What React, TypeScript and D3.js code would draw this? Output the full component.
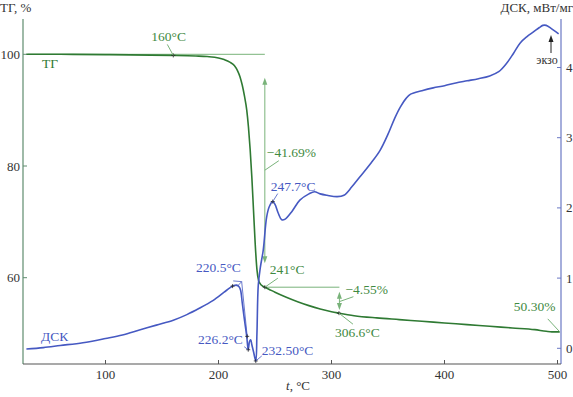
import React from "react";
import * as d3 from "d3";

const tgT = [30, 60, 100, 140, 160, 180, 190, 200, 205, 210, 214, 217, 219, 221, 223, 225, 226.5, 228, 229.5, 231, 232.5, 234, 235.5, 237, 239, 241, 245, 250, 260, 270, 280, 290, 300, 306.6, 320, 340, 360, 380, 400, 420, 440, 460, 480, 490, 495, 502];
const tgV = [100.0, 100.0, 99.95, 99.85, 99.8, 99.7, 99.6, 99.35, 99.05, 98.6, 98.0, 97.0, 96.0, 94.5, 92.5, 90.0, 87.0, 83.0, 78.0, 72.0, 66.0, 61.5, 59.5, 58.9, 58.5, 58.3, 57.9, 57.4, 56.5, 55.7, 55.0, 54.4, 53.9, 53.65, 53.2, 52.8, 52.5, 52.2, 51.9, 51.6, 51.3, 51.0, 50.7, 50.4, 50.3, 50.3];

const dscT = [30, 45, 60, 80, 100, 115, 130, 145, 160, 172, 183, 195, 205, 210, 213, 216, 218, 219.5, 221, 223, 225, 226.3, 227.5, 228.5, 229.5, 231, 233, 234, 235.2, 237, 239.6, 242.6, 245, 248, 250, 253, 256, 259, 265, 272, 280, 285, 290, 296, 305, 311, 318, 325, 335, 343, 350, 356, 361, 366, 370, 380, 390, 400, 410, 420, 430, 440, 448, 455, 461, 467, 473, 479, 484, 487, 490, 494, 501];
const dscV = [-0.01, 0.01, 0.04, 0.08, 0.14, 0.19, 0.26, 0.33, 0.40, 0.48, 0.57, 0.68, 0.80, 0.86, 0.89, 0.9, 0.88, 0.83, 0.65, 0.4, 0.17, -0.02, 0.1, 0.12, 0.05, -0.05, -0.18, 0.2, 0.9, 1.15, 1.4, 1.87, 2.02, 2.09, 2.05, 1.92, 1.83, 1.84, 1.95, 2.11, 2.2, 2.23, 2.2, 2.18, 2.16, 2.18, 2.3, 2.44, 2.64, 2.82, 3.05, 3.28, 3.44, 3.56, 3.62, 3.67, 3.71, 3.74, 3.78, 3.81, 3.84, 3.88, 3.94, 4.06, 4.2, 4.35, 4.44, 4.51, 4.57, 4.6, 4.6, 4.56, 4.48];

const xTicks = [100, 200, 300, 400, 500];
const leftTicks = [100, 80, 60];
const rightTicks = [0, 1, 2, 3, 4];

const GREEN = "#2f7a33";
const LGREEN = "#79b37a";
const TGREEN = "#3f8a42";
const BLUE = "#4659c2";
const FONT = "\"Liberation Serif\", \"DejaVu Serif\", serif";

export default function App() {
  const x = d3.scaleLinear().domain([100, 500]).range([105.5, 557.5]);
  const yL = d3.scaleLinear().domain([100, 60]).range([54.3, 277.7]);
  const yR = d3.scaleLinear().domain([0, 4]).range([348.3, 67.5]);

  const left = 23, right = 561, top = 19, bottom = 364;

  const tg = tgT.map((t, i) => [t, tgV[i]] as [number, number]);
  const dsc = dscT.map((t, i) => [t, dscV[i]] as [number, number]);

  const tgLine = d3.line<[number, number]>().x(d => x(d[0])).y(d => yL(d[1])).curve(d3.curveMonotoneX);
  const dscLine = d3.line<[number, number]>().x(d => x(d[0])).y(d => yR(d[1])).curve(d3.curveCatmullRom.alpha(0.5));

  const tgAt = (t: number) => tgV[tgT.indexOf(t)];
  const dscAt = (t: number) => dscV[dscT.indexOf(t)];

  const plus = (cx: number, cy: number, k: string) => (
    <g key={k} stroke="#222" strokeWidth={0.8}>
      <line x1={cx - 2} x2={cx + 2} y1={cy} y2={cy} />
      <line x1={cx} x2={cx} y1={cy - 2} y2={cy + 2} />
    </g>
  );

  const arrowHead = (px: number, py: number, dir: number, c: string) => (
    <path d={`M${px},${py} L${px - 2.5},${py - dir * 7} L${px + 2.5},${py - dir * 7} Z`} fill={c} />
  );

  const p241 = { x: x(241), y: yL(tgAt(241)) };
  const p306 = { x: x(306.6), y: yL(tgAt(306.6)) };
  const p160 = { x: x(160), y: yL(tgAt(160)) };
  const p500 = { x: x(502), y: yL(tgAt(502)) };
  const d220 = { x: x(216), y: yR(dscAt(216)) };
  const d226 = { x: x(226.3), y: yR(dscAt(226.3)) };
  const d232 = { x: x(233), y: yR(dscAt(233)) };
  const d247 = { x: x(248), y: yR(dscAt(248)) };

  const ax1 = x(241);
  const ax2 = x(307);

  return (
    <svg width={573} height={397} style={{ position: "absolute", left: 0, top: 0, background: "#fff", fontFamily: FONT }}>
      <style>{`text { font-family: "Liberation Serif", "DejaVu Serif", serif; }`}</style>
      <line x1={left} x2={left} y1={top} y2={bottom} stroke="#5e8c6e" strokeWidth={1.2} />
      <line x1={right} x2={right} y1={top} y2={bottom} stroke="#6a78c4" strokeWidth={1.2} />
      <line x1={left} x2={right} y1={bottom} y2={bottom} stroke="#555" strokeWidth={1.2} />
      {xTicks.map(t => (
        <g key={"xt" + t}>
          <line x1={x(t)} x2={x(t)} y1={bottom} y2={bottom - 4} stroke="#555" />
          <text x={x(t)} y={bottom + 15} textAnchor="middle" fontSize={13} fill="#333">{t}</text>
        </g>
      ))}
      {leftTicks.map(v => (
        <g key={"lt" + v}>
          <line x1={left} x2={left + 4} y1={yL(v)} y2={yL(v)} stroke="#5e8c6e" />
          <text x={left - 3} y={yL(v) + 4.5} textAnchor="end" fontSize={13} fill="#333">{v}</text>
        </g>
      ))}
      {rightTicks.map(v => (
        <g key={"rt" + v}>
          <line x1={right} x2={right - 4} y1={yR(v)} y2={yR(v)} stroke="#6a78c4" />
          <text x={right + 5} y={yR(v) + 4.5} textAnchor="start" fontSize={13} fill="#333">{v}</text>
        </g>
      ))}
      <text x={0} y={12} fontSize={13} fill="#333">ТГ, %</text>
      <text x={573} y={12} fontSize={13} fill="#333" textAnchor="end">ДСК, мВт/мг</text>
      <text x={298} y={390} fontSize={13} fill="#333" textAnchor="middle"><tspan fontStyle="italic">t</tspan>, °C</text>

      <line x1={left + 5} x2={ax1} y1={yL(100)} y2={yL(100)} stroke={LGREEN} strokeWidth={1} />
      <line x1={ax1} x2={ax1} y1={yL(95.8) + 6} y2={yL(62.6) - 6} stroke={LGREEN} strokeWidth={1} />
      {arrowHead(ax1, yL(95.8), -1, LGREEN)}
      {arrowHead(ax1, yL(62.6), 1, LGREEN)}
      <line x1={ax1} x2={ax2} y1={p241.y} y2={p241.y} stroke={LGREEN} strokeWidth={1} />
      <line x1={ax2} x2={ax2} y1={yL(57.5) + 6} y2={yL(54.2) - 6} stroke={LGREEN} strokeWidth={1} />
      {arrowHead(ax2, yL(57.5), -1, LGREEN)}
      {arrowHead(ax2, yL(54.2), 1, LGREEN)}

      <polyline points={`${x(213)},${yR(0.96)} ${x(220.5)},${yR(0.95)} ${x(216.5)},${yR(0.88)}`} fill="none" stroke={BLUE} strokeWidth={0.8} />
      <line x1={x(220.5)} y1={yR(0.95)} x2={x(225.4)} y2={yR(0.17)} stroke={BLUE} strokeWidth={0.8} />

      <path d={tgLine(tg) || ""} fill="none" stroke={GREEN} strokeWidth={1.6} />
      <path d={dscLine(dsc) || ""} fill="none" stroke={BLUE} strokeWidth={1.6} />

      {plus(p160.x, p160.y, "m1")}
      {plus(p241.x, p241.y, "m2")}
      {plus(p306.x, p306.y, "m3")}
      {plus(d220.x - 4, d220.y + 1, "m4")}
      {plus(d226.x, d226.y, "m5")}
      {plus(x(225.4), yR(0.17), "m5b")}
      {plus(d232.x, d232.y, "m6")}
      {plus(d247.x, d247.y, "m7")}

      <line x1={p160.x} y1={p160.y} x2={p160.x - 6} y2={p160.y - 11} stroke={LGREEN} />
      <text x={p160.x - 22} y={yL(100) - 13} fontSize={13.5} fill={TGREEN}>160°C</text>
      <text x={42} y={68} fontSize={13.5} fill={GREEN}>ТГ</text>
      <line x1={ax1} y1={yL(79.25)} x2={ax1 + 14} y2={yL(80.95)} stroke={LGREEN} />
      <text x={ax1 + 2} y={yL(81.7)} fontSize={13.5} fill={TGREEN}>−41.69%</text>
      <line x1={p241.x} y1={p241.y} x2={p241.x + 13} y2={p241.y - 9} stroke={LGREEN} />
      <text x={p241.x + 5} y={p241.y - 13} fontSize={13.5} fill={TGREEN}>241°C</text>
      <line x1={ax2} y1={yL(55.9) + 1} x2={ax2 + 14} y2={yL(56.6)} stroke={LGREEN} />
      <text x={ax2 + 6} y={yL(57.0)} fontSize={13.5} fill={TGREEN}>−4.55%</text>
      <line x1={p306.x} y1={p306.y} x2={p306.x + 14} y2={p306.y + 11} stroke={LGREEN} />
      <text x={p306.x - 4} y={p306.y + 24} fontSize={13.5} fill={TGREEN}>306.6°C</text>
      <line x1={p500.x} y1={p500.y} x2={p500.x - 12} y2={p500.y - 13} stroke={LGREEN} />
      <text x={p500.x - 46} y={p500.y - 21} fontSize={13.5} fill={TGREEN}>50.30%</text>

      <text x={196} y={272} fontSize={13.5} fill={BLUE}>220.5°C</text>
      <line x1={d226.x - 4} y1={d226.y - 3} x2={d226.x} y2={d226.y} stroke={BLUE} strokeWidth={0.8} />
      <text x={198} y={344} fontSize={13.5} fill={BLUE}>226.2°C</text>
      <line x1={d232.x} y1={d232.y} x2={d232.x + 6} y2={d232.y - 5} stroke={BLUE} strokeWidth={0.8} />
      <text x={d232.x + 6} y={d232.y - 6} fontSize={13.5} fill={BLUE}>232.50°C</text>
      <line x1={d247.x} y1={d247.y} x2={d247.x + 5} y2={d247.y - 8} stroke={BLUE} strokeWidth={0.8} />
      <text x={d247.x - 2} y={d247.y - 11} fontSize={13.5} fill={BLUE}>247.7°C</text>
      <text x={41} y={341} fontSize={13.5} fill={BLUE}>ДСК</text>

      <line x1={551} x2={551} y1={53} y2={40} stroke="#222" strokeWidth={1} />
      {arrowHead(551, 35, -1, "#222")}
      <text x={547} y={64} fontSize={12} fill="#333" textAnchor="middle">экзо</text>
    </svg>
  );
}
